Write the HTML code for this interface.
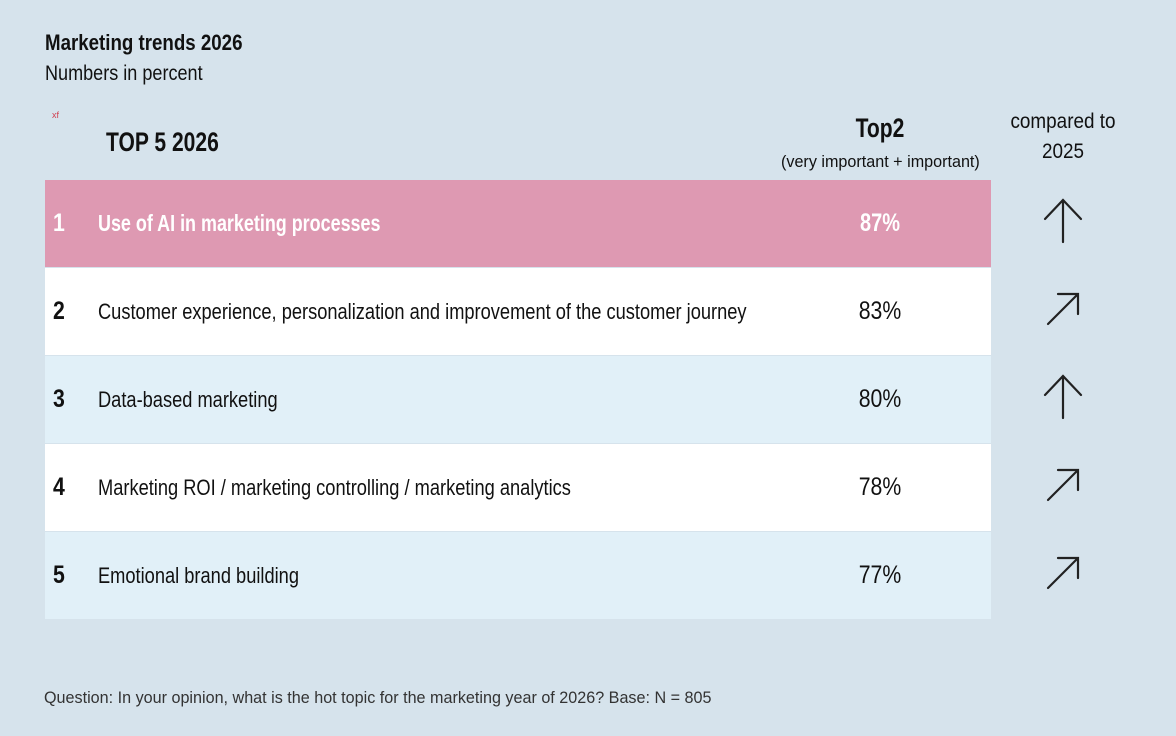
<!DOCTYPE html>
<html><head><style>
body{margin:0;width:1176px;height:736px;background:#d6e3ec;font-family:"Liberation Sans",sans-serif;color:#111;position:relative;overflow:hidden}
.a{position:absolute;white-space:nowrap;transform-origin:0 50%}
.row{position:absolute;left:45px;width:946px;height:87px}
.n{position:absolute;left:8px;top:0;line-height:87px;font-size:25px;font-weight:bold;transform:scaleX(.85);transform-origin:0 50%}
.t{position:absolute;left:53px;top:0;line-height:87px;font-size:22px;transform:scaleX(.83);transform-origin:0 50%;white-space:nowrap}
.p{position:absolute;left:790px;width:90px;text-align:center;top:0;line-height:87px;font-size:25px;transform:scaleX(.85)}
</style></head><body>
<div class="a" style="left:45px;top:30px;font-size:22px;font-weight:bold;transform:scaleX(.85)">Marketing trends 2026</div>
<div class="a" style="left:45px;top:62px;font-size:21px;transform:scaleX(.86)">Numbers in percent</div>
<div class="a" style="left:52px;top:110px;font-size:9px;color:#d04050">xf</div>
<div class="a" style="left:106px;top:127px;font-size:27px;font-weight:bold;transform:scaleX(.78)">TOP 5 2026</div>
<div class="a" style="left:835px;top:113px;width:90px;text-align:center;font-size:27px;font-weight:bold;transform:scaleX(.78);transform-origin:50% 50%">Top2</div>
<div class="a" style="left:776px;top:152px;width:200px;text-align:center;font-size:17px;transform:scaleX(.95);transform-origin:50% 50%">(very important + important)</div>
<div class="a" style="left:1003px;top:107px;width:120px;text-align:center;font-size:21px;line-height:30px;transform:scaleX(.9);transform-origin:50% 50%">compared to<br>2025</div>

<div class="row" style="top:180px;background:#de99b2;color:#fff"><div class="n">1</div><div class="t" style="font-weight:bold;font-size:23px;transform:scaleX(.78)">Use of AI in marketing processes</div><div class="p" style="font-weight:bold;transform:scaleX(.8)">87%</div></div>
<div class="row" style="top:268px;background:#fff"><div class="n">2</div><div class="t">Customer experience, personalization and improvement of the customer journey</div><div class="p">83%</div></div>
<div class="row" style="top:356px;background:#e1f0f8"><div class="n">3</div><div class="t">Data-based marketing</div><div class="p">80%</div></div>
<div class="row" style="top:444px;background:#fff"><div class="n">4</div><div class="t">Marketing ROI / marketing controlling / marketing analytics</div><div class="p">78%</div></div>
<div class="row" style="top:532px;background:#e1f0f8"><div class="n">5</div><div class="t">Emotional brand building</div><div class="p">77%</div></div>

<svg class="a" style="left:0;top:0" width="1176" height="736">
<g stroke="#222" stroke-width="2.2" fill="none" stroke-linecap="round">
<path d="M1063 242V200M1045 219L1063 200L1081 219"/>
<path d="M1063 418V376M1045 395L1063 376L1081 395"/>
<path d="M1048 324L1078 294M1058 294H1078V314"/>
<path d="M1048 500L1078 470M1058 470H1078V490"/>
<path d="M1048 588L1078 558M1058 558H1078V578"/>
</g></svg>
<div class="a" style="left:44px;top:688px;font-size:17px;color:#333;transform:scaleX(.95)">Question: In your opinion, what is the hot topic for the marketing year of 2026? Base: N = 805</div>
</body></html>
